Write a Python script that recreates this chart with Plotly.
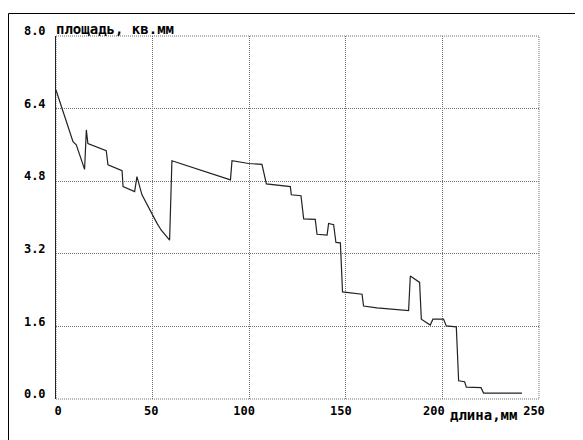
import plotly.graph_objects as go

length_mm = [0, 2.2, 8.8, 10.5, 14.8, 15.7, 16.5, 26.0, 26.9, 34.2, 34.7, 40.7, 41.9,
             44.5, 47.6, 50.0, 52.3, 54.5, 58.8, 60.0, 64.3, 69.5, 90.3, 91.1, 99.7,
             106.6, 108.9, 121.3, 121.8, 126.8, 128.2, 134.2, 135.1, 140.3, 141.1,
             143.7, 144.9, 147.2, 148.3, 158.4, 159.2, 166.1, 182.5, 183.4, 188.2,
             189.1, 193.7, 195.1, 200.6, 202.0, 207.2, 208.4, 211.5, 212.4, 220.0,
             221.3, 241.2]
area_mm2 = [6.81, 6.52, 5.67, 5.60, 5.06, 5.93, 5.63, 5.47, 5.16, 5.03, 4.68, 4.57, 4.90,
            4.50, 4.24, 4.05, 3.87, 3.72, 3.50, 5.25, 5.19, 5.11, 4.83, 5.25, 5.19,
            5.17, 4.74, 4.68, 4.50, 4.48, 3.97, 3.96, 3.63, 3.61, 3.87,
            3.84, 3.45, 3.44, 2.36, 2.31, 2.05, 2.01, 1.95, 2.71, 2.57,
            1.76, 1.63, 1.76, 1.76, 1.61, 1.59, 0.40, 0.38, 0.26, 0.25,
            0.13, 0.13]

NB = "\u00a0"
x_ticks = [0, 50, 100, 150, 200, 250]
x_tick_labels = [NB + NB + "0", NB + "50", "100", "150", "200" + NB, "250"]
y_ticks = [0, 1.6, 3.2, 4.8, 6.4, 8.0]
y_tick_labels = ["0.0", "1.6", "3.2", "4.8", "6.4", "8.0"]
y_title = "площадь, кв.мм"
x_title = "длина,мм"

FONT = "DejaVu Sans Mono"
tick_font = dict(family=FONT, size=12, color="black", weight="bold")
title_font = dict(family=FONT, size=14, color="black", weight="bold")
GRID = "#707070"
DOTS = "1px,1px"

# the page body has an 8px margin, so the figure is 575x432 placed at (8, 8)
W, H = 575, 432
ML, MR, MT, MB = 48, 44, 28, 41
PW, PH = W - ML - MR, H - MT - MB

fig = go.Figure()
fig.add_trace(go.Scatter(x=length_mm, y=area_mm2, mode="lines",
                         line=dict(color="#222222", width=1.2), showlegend=False,
                         hoverinfo="skip"))

fx = -(ML - 0.5) / PW
fy = 1 + (MT - 5.5) / PH

fig.update_layout(
    width=W, height=H,
    margin=dict(l=ML, r=MR, t=MT, b=MB),
    paper_bgcolor="white", plot_bgcolor="white",
    xaxis=dict(range=[0, 250], tickvals=x_ticks, ticktext=x_tick_labels,
               showgrid=True, gridcolor=GRID, griddash=DOTS, gridwidth=1,
               zeroline=False, showline=False, ticks="", tickfont=tick_font,
               ticklabelstandoff=3, ticklabelshift=-5),
    yaxis=dict(range=[0, 8], tickvals=y_ticks, ticktext=y_tick_labels,
               showgrid=True, gridcolor=GRID, griddash=DOTS, gridwidth=1,
               zeroline=False, showline=True, linecolor="#222222", linewidth=1,
               ticks="", tickfont=tick_font, ticklabelstandoff=7,
               ticklabelshift=-5),
    shapes=[
        dict(type="rect", xref="paper", yref="paper", x0=0, y0=0, x1=1, y1=1,
             line=dict(color=GRID, width=1, dash=DOTS), layer="below"),
        dict(type="line", xref="paper", yref="paper", x0=fx, x1=1.3,
             y0=fy, y1=fy, line=dict(color="black", width=1)),
        dict(type="line", xref="paper", yref="paper", x0=fx, x1=fx,
             y0=fy, y1=-0.3, line=dict(color="black", width=1)),
    ],
    annotations=[
        dict(text=y_title, xref="paper", yref="paper", x=0, y=1,
             xanchor="left", yanchor="bottom", showarrow=False, font=title_font,
             xshift=-2, yshift=-3),
        dict(text=x_title, xref="x", yref="paper", x=203, y=0,
             xanchor="left", yanchor="top", showarrow=False, font=title_font,
             yshift=-6),
    ],
)

fig.write_html("out.html")
